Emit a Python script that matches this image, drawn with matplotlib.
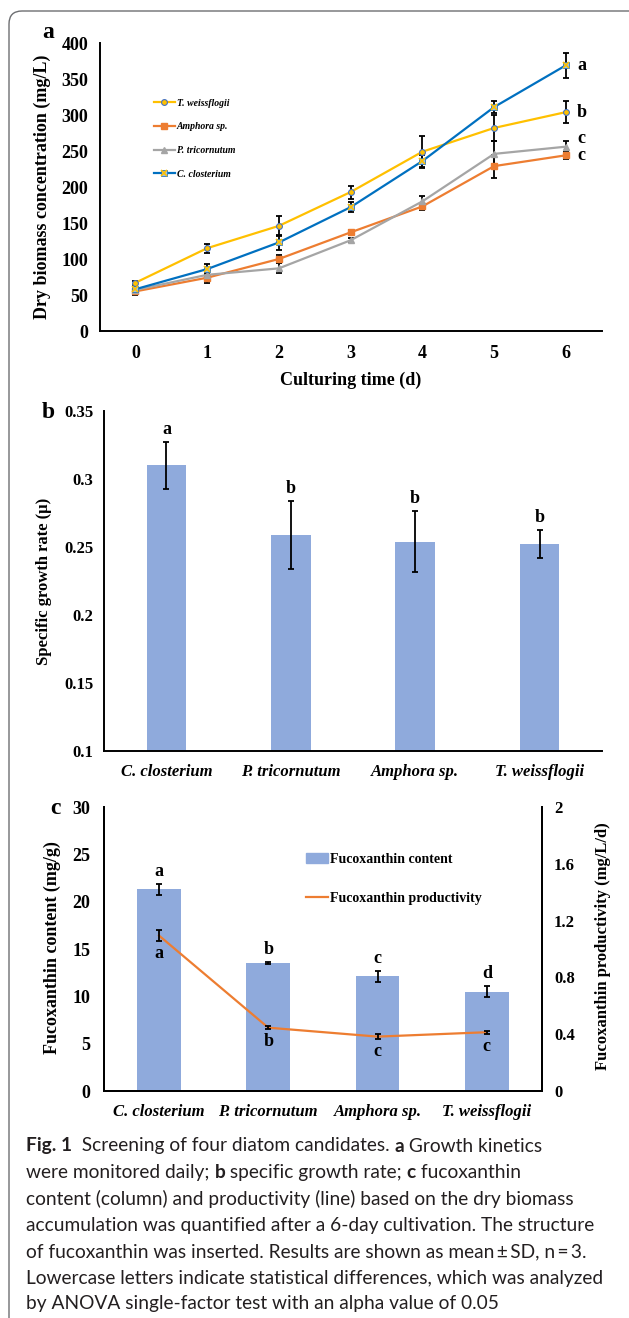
import matplotlib
matplotlib.use('Agg')
import matplotlib.pyplot as plt
from matplotlib.patches import FancyBboxPatch, Patch
from matplotlib.lines import Line2D

# ---- data ----
days = [0, 1, 2, 3, 4, 5, 6]
tw_mean = [67, 115, 146, 193, 249, 282, 304]
tw_sd = [3, 6, 14, 9, 22, 18, 15]
am_mean = [55, 74, 100, 137, 173, 229, 244]
am_sd = [5, 8, 5, 3, 5, 16, 5]
pt_mean = [57, 78, 87, 126, 180, 246, 256]
pt_sd = [4, 4, 7, 3, 8, 18, 8]
cc_mean = [58, 86, 123, 172, 236, 311, 369]
cc_sd = [5, 7, 10, 7, 8, 8, 17]
day6_letters = {'cc': 'a', 'tw': 'b', 'pt': 'c', 'am': 'c'}

species = ['C. closterium', 'P. tricornutum', 'Amphora sp.', 'T. weissflogii']
mu = [0.310, 0.259, 0.254, 0.252]
mu_sd = [0.0175, 0.025, 0.0227, 0.0102]
mu_letters = ['a', 'b', 'b', 'b']

fx_content = [21.3, 13.5, 12.1, 10.5]
fx_content_sd = [0.55, 0.12, 0.6, 0.55]
fx_content_letters = ['a', 'b', 'c', 'd']
fx_prod = [1.095, 0.446, 0.383, 0.414]
fx_prod_sd = [0.04, 0.012, 0.02, 0.012]
fx_prod_letters = ['a', 'b', 'c', 'c']

caption = [
    [('Fig. 1', True), ('  Screening of four diatom candidates. ', False), ('a', True), (' Growth kinetics', False)],
    [('were monitored daily; ', False), ('b', True), (' specific growth rate; ', False), ('c', True), (' fucoxanthin', False)],
    [('content (column) and productivity (line) based on the dry biomass', False)],
    [('accumulation was quantified after a 6-day cultivation. The structure', False)],
    [('of fucoxanthin was inserted. Results are shown as mean\u2009\u00b1\u2009SD, n\u2009=\u20093.', False)],
    [('Lowercase letters indicate statistical differences, which was analyzed', False)],
    [('by ANOVA single-factor test with an alpha value of 0.05', False)],
]

# ---- style ----
plt.rcParams['font.family'] = ['Liberation Serif', 'DejaVu Serif']
plt.rcParams['font.weight'] = 'bold'
plt.rcParams['axes.linewidth'] = 1.4

W, H = 629, 1318
fig = plt.figure(figsize=(W / 100, H / 100), dpi=100)

YEL, ORG, GRY, BLU = '#FFC000', '#ED7D31', '#A5A5A5', '#0070C0'
BAR = '#8FAADC'


def px_axes(l, t, r, b):
    return fig.add_axes([l / W, 1 - b / H, (r - l) / W, (b - t) / H])


def ftext(x, y, s, **kw):
    return fig.text(x / W, 1 - y / H, s, **kw)


def clean(ax, right=False):
    ax.spines['top'].set_visible(False)
    if not right:
        ax.spines['right'].set_visible(False)
    ax.tick_params(length=0)
    for lab in ax.get_xticklabels() + ax.get_yticklabels():
        lab.set_fontweight('bold')


ekw = dict(fmt='none', ecolor='black', elinewidth=1.3, capsize=2.5, capthick=1.3)

# frame
frame = FancyBboxPatch((0.09, -0.3), 7.0, 13.07 + 0.3, boxstyle='round,pad=0,rounding_size=0.13',
                       transform=fig.dpi_scale_trans, fc='none', ec='#6d6e71', lw=1.0)
fig.patches.append(frame)

# ---- panel a ----
ax1 = px_axes(99.5, 43, 601.7, 331)
series = [('tw', 'T. weissflogii', tw_mean, tw_sd, YEL),
          ('am', 'Amphora sp.', am_mean, am_sd, ORG),
          ('pt', 'P. tricornutum', pt_mean, pt_sd, GRY),
          ('cc', 'C. closterium', cc_mean, cc_sd, BLU)]
handles = {}
for key, name, m, s, c in series:
    ax1.errorbar(days, m, yerr=s, zorder=2, **ekw)
    if key == 'tw':
        ln, = ax1.plot(days, m, color=c, lw=1.6, marker='o', ms=4.2, mfc=YEL, mec='#4472C4', mew=0.8, zorder=3)
        handles[key] = ln
    elif key == 'am':
        ln, = ax1.plot(days, m, color=c, lw=1.6, marker='s', ms=4.2, mfc=c, mec=c, zorder=3)
        handles[key] = ln
    elif key == 'pt':
        ln, = ax1.plot(days, m, color=c, lw=1.6, marker='^', ms=5, mfc=c, mec=c, zorder=3)
        handles[key] = ln
    else:
        ln, = ax1.plot(days, m, color=c, lw=1.6, marker='s', ms=5, mfc='#9DC3E6', mec='#2E75B6', mew=0.6, zorder=3)
        ln2, = ax1.plot(days, m, ls='none', marker='x', ms=5, mec=YEL, mew=1.2, zorder=4)
        handles[key] = (ln, ln2)
    dy = 6 if key == 'pt' else 0
    ax1.annotate(day6_letters[key], (days[-1], m[-1]), xytext=(8, dy), textcoords='offset points',
                 ha='left', va='center', fontsize=13, fontweight='bold')

ax1.set_xlim(-0.5, 6.5)
ax1.set_ylim(0, 400)
ax1.set_xticks(days)
ax1.set_yticks(range(0, 401, 50))
ax1.tick_params(axis='y', pad=8, labelsize=13)
ax1.tick_params(axis='x', pad=10, labelsize=13)
clean(ax1)
ax1.set_xlabel('Culturing time (d)', fontsize=13, fontweight='bold', labelpad=7)
leg1 = ax1.legend([handles[k] for k in ['tw', 'am', 'pt', 'cc']],
                  [s[1] for s in series], loc='upper left', bbox_to_anchor=(0.098, 0.823),
                  frameon=False, borderpad=0, labelspacing=1.5, handlelength=2.2,
                  handletextpad=0.2, numpoints=1, prop=dict(size=7, weight='bold', style='italic'))
ftext(42, 187, 'Dry biomass concentration (mg/L)', rotation=90, ha='center', va='center',
      fontsize=13, fontweight='bold')
ftext(48, 33, 'a', ha='center', va='center', fontsize=17, fontweight='bold')

# ---- panel b ----
ax2 = px_axes(104.3, 411, 601.7, 751)
xb = range(len(species))
ax2.bar(xb, mu, width=0.32, color=BAR, zorder=1)
ax2.errorbar(xb, mu, yerr=mu_sd, zorder=2, **ekw)
for i, (v, s, l) in enumerate(zip(mu, mu_sd, mu_letters)):
    ax2.annotate(l, (i, v + s), xytext=(0, 9), textcoords='offset points', ha='center', va='center',
                 fontsize=13, fontweight='bold')
ax2.set_xlim(-0.5, 3.5)
ax2.set_ylim(0.1, 0.35)
ax2.set_yticks([0.1, 0.15, 0.2, 0.25, 0.3, 0.35])
ax2.set_yticklabels(['0.1', '0.15', '0.2', '0.25', '0.3', '0.35'])
ax2.set_xticks(list(xb))
ax2.set_xticklabels(species, fontstyle='italic')
ax2.tick_params(axis='y', pad=8, labelsize=12)
ax2.tick_params(axis='x', pad=9, labelsize=12)
clean(ax2)
for lab in ax2.get_xticklabels():
    lab.set_fontstyle('italic')
ftext(44, 581, 'Specific growth rate (\u03bc)', rotation=90, ha='center', va='center',
      fontsize=12, fontweight='bold')
ftext(48, 412, 'b', ha='center', va='center', fontsize=17, fontweight='bold')

# ---- panel c ----
ax3 = px_axes(104.3, 807, 541.5, 1091)
ax3.bar(xb, fx_content, width=0.4, color=BAR, zorder=1, label='Fucoxanthin content')
ax3.errorbar(xb, fx_content, yerr=fx_content_sd, zorder=2, **ekw)
for i, (v, s, l) in enumerate(zip(fx_content, fx_content_sd, fx_content_letters)):
    ax3.annotate(l, (i, v + s), xytext=(0, 9), textcoords='offset points', ha='center', va='center',
                 fontsize=13, fontweight='bold')
ax3.set_xlim(-0.5, 3.5)
ax3.set_ylim(0, 30)
ax3.set_yticks(range(0, 31, 5))
ax3.set_xticks(list(xb))
ax3.set_xticklabels(species)
ax3.tick_params(axis='y', pad=10, labelsize=13)
ax3.tick_params(axis='x', pad=9, labelsize=12)

ax3r = ax3.twinx()
ax3r.plot(xb, fx_prod, color=ORG, lw=1.6, zorder=3, label='Fucoxanthin productivity')
ax3r.errorbar(xb, fx_prod, yerr=fx_prod_sd, zorder=4, **ekw)
for i, (v, s, l) in enumerate(zip(fx_prod, fx_prod_sd, fx_prod_letters)):
    ax3r.annotate(l, (i, v - s), xytext=(0, -9), textcoords='offset points', ha='center', va='center',
                  fontsize=13, fontweight='bold')
ax3r.set_ylim(0, 2)
ax3r.set_yticks([0, 0.4, 0.8, 1.2, 1.6, 2])
ax3r.set_yticklabels(['0', '0.4', '0.8', '1.2', '1.6', '2'])
ax3r.tick_params(axis='y', pad=9, labelsize=12)
clean(ax3, right=True)
clean(ax3r, right=True)
for lab in ax3.get_xticklabels():
    lab.set_fontstyle('italic')
ax3r.legend([Patch(color=BAR), Line2D([], [], color=ORG, lw=1.6)],
            ['Fucoxanthin content', 'Fucoxanthin productivity'], loc='upper left',
            bbox_to_anchor=(0.445, 0.863), frameon=False, borderpad=0, labelspacing=1.9,
            handlelength=1.6, handletextpad=0.15, prop=dict(size=10, weight='bold'))
ftext(52, 948, 'Fucoxanthin content (mg/g)', rotation=90, ha='center', va='center',
      fontsize=13, fontweight='bold')
ftext(603, 946, 'Fucoxanthin productivity (mg/L/d)', rotation=90, ha='center', va='center',
      fontsize=12, fontweight='bold')
ftext(55, 808, 'c', ha='center', va='center', fontsize=17, fontweight='bold')

# ---- caption ----
cap_font = ['Lato', 'DejaVu Sans']
renderer = fig.canvas.get_renderer()
probe = fig.text(0, 0, caption[3][0][0], fontsize=10, family=cap_font)
cap_fs = 10 * 578 / probe.get_window_extent(renderer).width
probe.remove()
line_y = [1146, 1172.5, 1199, 1225.5, 1252, 1278.5, 1304]
for y, pieces in zip(line_y, caption):
    x = 26
    for txt, bold in pieces:
        t = ftext(x, y, txt, fontsize=cap_fs, family=cap_font, ha='left', va='center',
                  fontweight='bold' if bold else 'normal', color='#231F20')
        x += t.get_window_extent(renderer).width

fig.savefig('out.png', dpi=100)
